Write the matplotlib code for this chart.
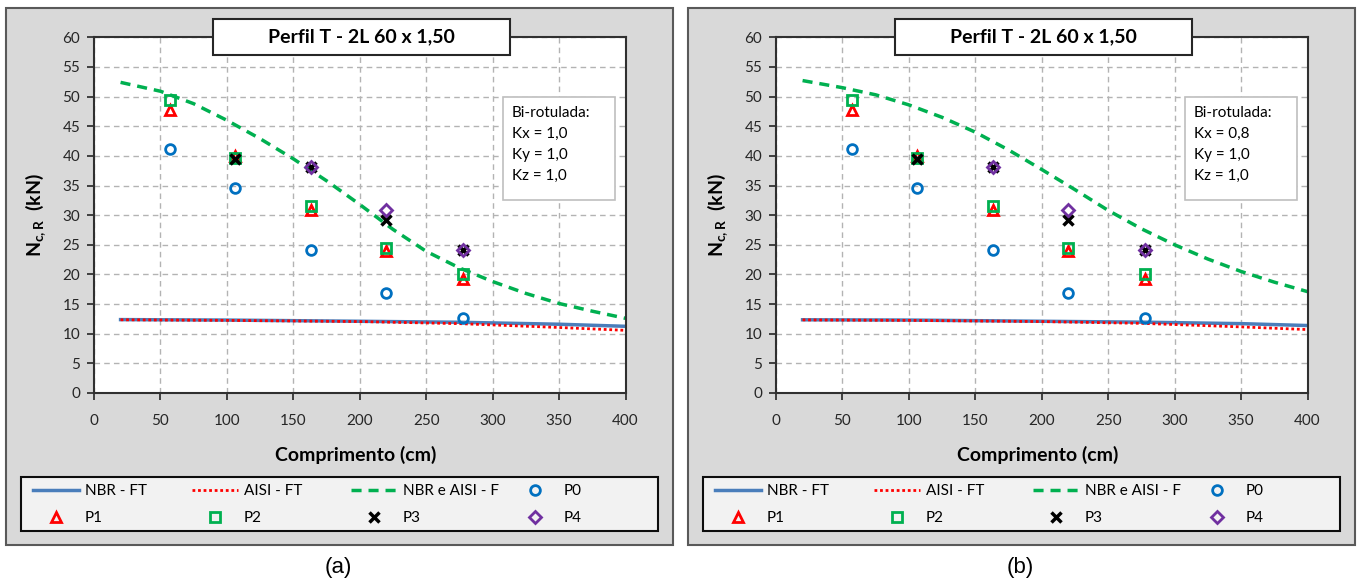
import matplotlib
matplotlib.use('Agg')
import matplotlib.pyplot as plt
from matplotlib.patches import Rectangle
import numpy as np

plt.rcParams['font.family'] = ['Lato', 'DejaVu Sans']
plt.rcParams['mathtext.fontset'] = 'custom'
plt.rcParams['mathtext.rm'] = 'Lato'
plt.rcParams['mathtext.bf'] = 'Lato:bold'

# ensaios: comprimento (cm) x carga resistente (kN)
L_ens = [57.5, 106, 163, 220, 278]
P0 = [41.1, 34.5, 24.1, 16.9, 12.6]
P1 = [47.8, 40.0, 30.9, 24.0, 19.3]
P2 = [49.5, 39.6, 31.6, 24.5, 20.1]
P3 = [np.nan, 39.4, 38.2, 29.2, 24.1]
P4 = [np.nan, np.nan, 38.1, 30.9, 24.2]

# flexo-torcao
L_ft = [20, 100, 200, 275, 350, 400]
nbr_ft_a = [12.38, 12.30, 12.10, 11.93, 11.60, 11.25]
aisi_ft_a = [12.35, 12.25, 12.05, 11.70, 11.05, 10.57]
nbr_ft_b = [12.35, 12.30, 12.10, 11.95, 11.70, 11.38]
aisi_ft_b = [12.33, 12.25, 12.05, 11.75, 11.15, 10.70]

# flexao
L_f = [20, 50, 75, 100, 125, 150, 175, 200, 225, 250, 275, 300, 325, 350, 375, 400]
f_a = [52.4, 50.9, 48.8, 46.0, 42.9, 39.5, 35.8, 31.8, 27.6, 23.9, 21.1, 18.8, 16.8, 15.1, 13.8, 12.6]
f_b = [52.7, 51.5, 50.3, 48.6, 46.5, 44.0, 41.0, 37.7, 34.3, 30.8, 27.7, 25.0, 22.6, 20.5, 18.7, 17.1]

titulo = 'Perfil T - 2L 60 x 1,50'
rotulos = ['NBR - FT', 'AISI - FT', 'NBR e AISI - F', 'P0', 'P1', 'P2', 'P3', 'P4']

W, H = 1357, 582
fig = plt.figure(figsize=(W / 100, H / 100), dpi=100)


def fx(px):
    return px / W


def fy(py):
    return 1 - py / H


def box(x0, y0, w, h, **kw):
    r = Rectangle((fx(x0), fy(y0 + h)), w / W, h / H, transform=fig.transFigure, **kw)
    fig.add_artist(r)
    return r


def painel(ox, f_vals, nbr_vals, aisi_vals, kx, tag):
    box(6 + ox, 8, 667, 537, fc='#d9d9d9', ec='#595959', lw=1.5, zorder=-1)

    ax = fig.add_axes([fx(94 + ox), fy(393), 531.5 / W, (393 - 37.3) / H])
    ax.set_xlim(0, 400)
    ax.set_ylim(0, 60)
    ax.set_xticks(np.arange(0, 401, 50))
    ax.set_yticks(np.arange(0, 61, 5))
    ax.grid(True, ls=(0, (4, 3)), color='#b3b3b3', lw=1)
    ax.set_axisbelow(True)
    for s in ax.spines.values():
        s.set_color('#303030')
        s.set_linewidth(1.5)
    ax.tick_params(direction='out', length=5, width=1.2, labelsize=11, colors='#262626')
    ax.tick_params(axis='x', pad=10)
    ax.tick_params(axis='y', pad=5)

    h = []
    h += ax.plot(L_ft, nbr_vals, color='#4a7ebb', lw=2.5)
    h += ax.plot(L_ft, aisi_vals, color='#ff0000', lw=2, ls=(0, (1, 1)))
    h += ax.plot(L_f, f_vals, color='#00b050', lw=2.5, ls=(0, (2.9, 2)))
    h += ax.plot(L_ens, P0, ls='none', marker='o', ms=7, mfc='none', mec='#0070c0', mew=2)
    h += ax.plot(L_ens, P1, ls='none', marker='^', ms=7, mfc='none', mec='#ff0000', mew=2)
    h += ax.plot(L_ens, P2, ls='none', marker='s', ms=7, mfc='none', mec='#00b050', mew=2)
    h += ax.plot(L_ens, P3, ls='none', marker='x', ms=6.5, mec='black', mew=2.5)
    h += ax.plot(L_ens, P4, ls='none', marker='D', ms=6, mfc='none', mec='#7030a0', mew=2)

    # titulo
    box(213 + ox, 19, 297, 36, fc='white', ec='#262626', lw=1.5, zorder=5)
    fig.text(fx(361.5 + ox), fy(37), titulo, ha='center', va='center',
             fontsize=14, fontweight='bold', zorder=6)

    # condicoes de apoio
    box(503 + ox, 97, 112, 103, fc='white', ec='#bfbfbf', lw=1.2, zorder=5)
    linhas = ['Bi-rotulada:', 'Kx = ' + kx, 'Ky = 1,0', 'Kz = 1,0']
    for i, t in enumerate(linhas):
        fig.text(fx(512 + ox), fy(113 + 21 * i), t, ha='left', va='center',
                 fontsize=11, zorder=6)

    fig.text(fx(355.5 + ox), fy(455), 'Comprimento (cm)', ha='center', va='center',
             fontsize=14, fontweight='bold')
    fig.text(fx(36 + ox), fy(215), r'$\mathbf{N_{c,R}}$  (kN)', ha='center', va='center',
             rotation=90, fontsize=14, fontweight='bold')

    # legenda em 4 colunas
    box(21 + ox, 477, 637, 54, fc='#f2f2f2', ec='#0d0d0d', lw=1.5, zorder=5)
    cols = [33, 192, 351, 512]
    for j, cx in enumerate(cols):
        leg = fig.legend(handles=[h[j], h[j + 4]], labels=[rotulos[j], rotulos[j + 4]],
                         loc='center left', bbox_to_anchor=(fx(cx + ox), fy(504.5)),
                         frameon=False, borderpad=0, borderaxespad=0, handlelength=3.0,
                         handletextpad=0.4, labelspacing=0.85, fontsize=11, numpoints=1)
        leg.set_zorder(6)

    fig.text(fx(338 + ox), fy(568), tag, ha='center', va='center',
             fontsize=16, family='Liberation Sans')
    return ax


painel(0, f_a, nbr_ft_a, aisi_ft_a, '1,0', '(a)')
painel(682, f_b, nbr_ft_b, aisi_ft_b, '0,8', '(b)')

fig.savefig('out.png', dpi=100, facecolor='white')
